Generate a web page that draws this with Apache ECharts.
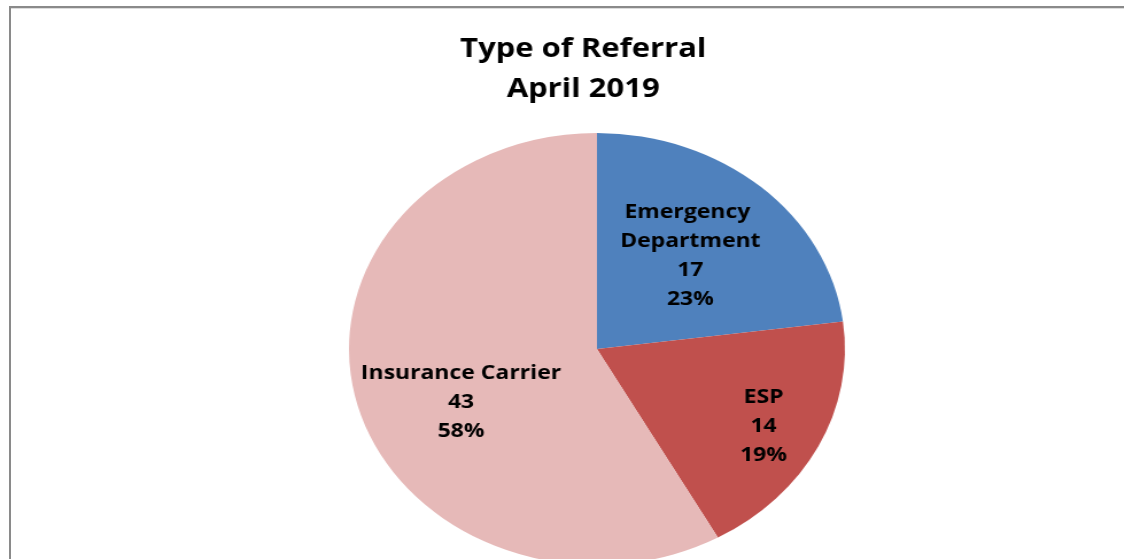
<!DOCTYPE html>
<html>
<head>
<meta charset="utf-8">
<script src="https://cdn.jsdelivr.net/npm/echarts@6/dist/echarts.min.js"></script>
<style>
  html, body { margin: 0; padding: 0; background: #fff; width: 1124px; height: 559px; overflow: hidden; }
  #frame { position: absolute; left: 9px; top: 6px; width: 1200px; height: 600px;
           border-top: 2px solid #8a8a8a; border-left: 2px solid #8a8a8a; }
  #frame2 { position: absolute; left: 11px; top: 8px; width: 1200px; height: 1px; background: #dcdcdc; }
  #chart { position: absolute; left: 0; top: 0; width: 979px; height: 559px;
           transform: scaleX(1.148); transform-origin: 0 0; }
</style>
</head>
<body>
<div id="frame"></div>
<div id="frame2"></div>
<div id="chart"></div>
<script>
const titleLines = ['Type of Referral', 'April 2019'];
const categories = ['Emergency Department', 'ESP', 'Insurance Carrier'];
const values = [17, 14, 43];
const colors = ['#4F81BD', '#C0504D', '#E6B9B8'];

// label placement tweaks (layout only)
const labelLayout = {
  'Emergency Department': { offset: [8, -10], width: 130 },
  'ESP': { offset: [46, 27] },
  'Insurance Carrier': { offset: [-11, 25] }
};

const chart = echarts.init(document.getElementById('chart'), null, { renderer: 'canvas' });
const data = categories.map((name, i) => {
  const lay = labelLayout[name] || {};
  const label = { offset: lay.offset || [0, 0] };
  if (lay.width) { label.width = lay.width; label.overflow = 'break'; }
  return { name: name, value: values[i], itemStyle: { color: colors[i] }, label: label };
});

chart.setOption({
  animation: false,
  backgroundColor: 'transparent',
  title: {
    text: titleLines.join('\n'),
    left: 503,
    textAlign: 'center',
    top: 24,
    textStyle: { fontFamily: 'Open Sans', fontWeight: 'bold', fontSize: 27, lineHeight: 40, color: '#000' }
  },
  series: [{
    type: 'pie',
    center: [520, 349],
    radius: [0, 216],
    startAngle: 90,
    clockwise: true,
    percentPrecision: 0,
    avoidLabelOverlap: false,
    label: {
      show: true,
      position: 'inside',
      formatter: '{b}\n{c}\n{d}%',
      fontFamily: 'Open Sans',
      fontWeight: 'bold',
      fontSize: 20,
      lineHeight: 29,
      color: '#000',
      align: 'center'
    },
    labelLine: { show: false },
    itemStyle: { borderWidth: 0 },
    emphasis: { disabled: true },
    data: data
  }]
});
</script>
</body>
</html>
